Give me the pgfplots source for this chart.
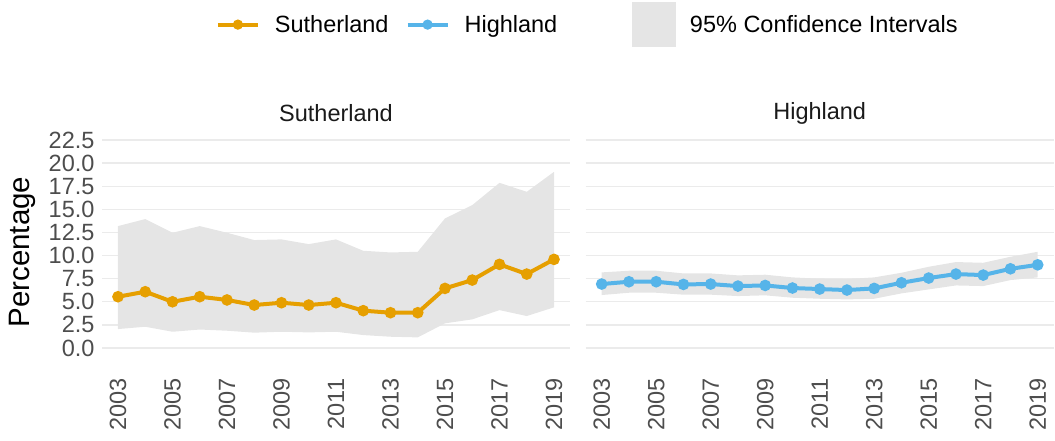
\documentclass[border=0pt]{standalone}
\usepackage{fontspec}
\setmainfont{Liberation Sans}
\usepackage{pgfplots}
\pgfplotsset{compat=1.18}
\definecolor{suth}{HTML}{E69F00}
\definecolor{high}{HTML}{56B4E9}
\definecolor{cigray}{HTML}{E5E5E5}
\definecolor{gridc}{HTML}{EBEBEB}
\definecolor{tickc}{HTML}{4D4D4D}
\definecolor{stripc}{HTML}{1A1A1A}
\pgfplotsset{
 lineleg/.style={legend image code/.code={\draw[mark repeat=2,mark phase=2,##1] plot coordinates {(0pt,0pt) (20pt,0pt) (40pt,0pt)};}},
 boxleg/.style={legend image code/.code={\fill[cigray] (0pt,-22pt) rectangle (43pt,22pt);}},
 panel/.style={
  scale only axis, width=468pt, height=228.3pt,
  xmin=2002.413, xmax=2019.587, ymin=-1.2, ymax=23.5,
  axis line style={draw=none}, major tick length=0pt,
  ytick={0,2.5,5,7.5,10,12.5,15,17.5,20,22.5},
  ymajorgrids, grid style={gridc, line width=1.4pt},
  xtick={2003,2005,2007,2009,2011,2013,2015,2017,2019},
  /pgf/number format/assume math mode=true,
  /pgf/number format/1000 sep={},
  ticklabel style={font=\fontsize{23.5}{27}\selectfont, text=tickc},
  xticklabel style={rotate=90, anchor=east, xshift=-16pt},
  yticklabel style={/pgf/number format/fixed, /pgf/number format/fixed zerofill, /pgf/number format/precision=1, xshift=-4pt},
  title style={font=\fontsize{23.5}{27}\selectfont, text=stripc, at={(0.5,1.052)}, anchor=center},
 }
}
\begin{document}
\begin{tikzpicture}
\path (0,0) rectangle (1055pt,440pt);
\begin{axis}[panel, at={(102pt,80.9pt)}, anchor=south west, title={Sutherland},
  ylabel={Percentage}, ylabel style={font=\fontsize{29.5}{33}\selectfont, at={(axis description cs:-0.171,0.469)}, anchor=center, rotate=0},
  legend columns=3,
  legend style={draw=none, fill=none, at={(1.036,1.572)}, anchor=north, font=\fontsize{23.5}{27}\selectfont,
    nodes={inner sep=0pt},
    /tikz/every odd column/.append style={column sep=15pt},
    /tikz/every even column/.append style={column sep=17pt}},
]
\addlegendimage{suth, line width=4pt, mark=*, mark size=3pt, lineleg}
\addlegendentry{Sutherland}
\addlegendimage{high, line width=4pt, mark=*, mark size=3pt, lineleg}
\addlegendentry{\makebox[150pt][l]{Highland}}
\addlegendimage{boxleg}
\addlegendentry{95\% Confidence Intervals}

\addplot[fill=cigray, draw=none, forget plot] coordinates {
(2003,13.19) (2004,13.95) (2005,12.47) (2006,13.19) (2007,12.47) (2008,11.68) (2009,11.75) (2010,11.24) (2011,11.75) (2012,10.52) (2013,10.34) (2014,10.41) (2015,14.02) (2016,15.46) (2017,17.87) (2018,16.9) (2019,19.06)
(2019,4.4) (2018,3.46) (2017,4.1) (2016,3.1) (2015,2.67) (2014,1.15) (2013,1.22) (2012,1.4) (2011,1.76) (2010,1.69) (2009,1.76) (2008,1.66) (2007,1.87) (2006,2.0) (2005,1.76) (2004,2.3) (2003,2.05)};
\addplot[suth, line width=4pt, mark=*, mark size=3.7pt, forget plot] coordinates {
(2003,5.55) (2004,6.09) (2005,5.0) (2006,5.55) (2007,5.2) (2008,4.65) (2009,4.9) (2010,4.65) (2011,4.9) (2012,4.04) (2013,3.82) (2014,3.82) (2015,6.45) (2016,7.35) (2017,9.05) (2018,8.0) (2019,9.59)};
\end{axis}
\begin{axis}[panel, at={(585.7pt,80.9pt)}, anchor=south west, title={Highland}, yticklabels={}]
\addplot[fill=cigray, draw=none, forget plot] coordinates {
(2003,8.18) (2004,8.36) (2005,8.36) (2006,8.07) (2007,8.07) (2008,7.86) (2009,7.93) (2010,7.64) (2011,7.5) (2012,7.46) (2013,7.64) (2014,8.14) (2015,8.79) (2016,9.3) (2017,9.22) (2018,9.87) (2019,10.41)
(2019,7.64) (2018,7.35) (2017,6.7) (2016,6.77) (2015,6.34) (2014,5.91) (2013,5.33) (2012,5.26) (2011,5.33) (2010,5.44) (2009,5.7) (2008,5.62) (2007,5.77) (2006,5.77) (2005,5.98) (2004,5.98) (2003,5.73)};
\addplot[high, line width=4pt, mark=*, mark size=3.7pt, forget plot] coordinates {
(2003,6.92) (2004,7.17) (2005,7.17) (2006,6.88) (2007,6.92) (2008,6.7) (2009,6.77) (2010,6.49) (2011,6.38) (2012,6.27) (2013,6.45) (2014,7.06) (2015,7.57) (2016,8.0) (2017,7.89) (2018,8.57) (2019,9.0)};
\end{axis}
\end{tikzpicture}
\end{document}
